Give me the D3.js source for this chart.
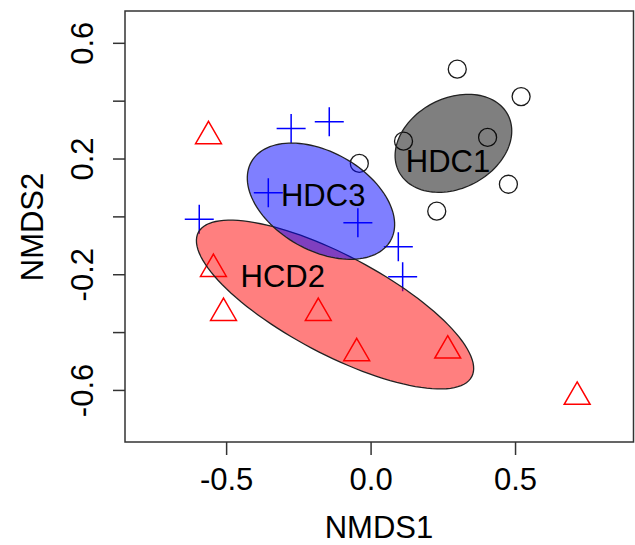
<!DOCTYPE html>
<html>
<head>
<meta charset="utf-8">
<script src="https://cdn.jsdelivr.net/npm/d3@7"></script>
<style>
  body { margin: 0; background: #fff; }
  svg text { font-family: "Liberation Sans", Arial, sans-serif; fill: #000; }
</style>
</head>
<body>
<div class="chart"></div>
<script>
// NMDS scores
var groupNames = ['HDC1', 'HCD2', 'HDC3'];
var hdc1X = [0.300, 0.521, 0.114, 0.405, -0.039, 0.477, 0.229];
var hdc1Y = [0.509, 0.414, 0.260, 0.273, 0.183, 0.111, 0.018];
var hcd2X = [-0.561, -0.544, -0.509, -0.181, -0.048, 0.267, 0.715];
var hcd2Y = [0.277, -0.182, -0.334, -0.334, -0.473, -0.464, -0.624];
var hdc3X = [-0.275, -0.143, -0.354, -0.593, -0.044, 0.096, 0.111];
var hdc3Y = [0.304, 0.327, 0.082, -0.010, -0.022, -0.105, -0.209];
// where the group names were written
var labelX = [0.268, -0.304, -0.164];
var labelY = [0.193, -0.206, 0.074];
var xTicks = [-0.5, 0.0, 0.5];
var yTicks = [-0.6, -0.4, -0.2, 0.0, 0.2, 0.4, 0.6];
var yTickLabels = ['-0.6', '', '-0.2', '', '0.2', '', '0.6'];

var groups = [
  { name: groupNames[0], xs: hdc1X, ys: hdc1Y, pch: 'circle', col: '#1a1a1a', fill: 'rgba(0,0,0,0.5)' },
  { name: groupNames[1], xs: hcd2X, ys: hcd2Y, pch: 'triangle', col: '#ff0000', fill: 'rgba(255,0,0,0.5)' },
  { name: groupNames[2], xs: hdc3X, ys: hdc3Y, pch: 'plus', col: '#0000ff', fill: 'rgba(0,0,255,0.5)' }
];

var svg = d3.select('.chart')
    .append('svg')
    .attr('width', 635)
    .attr('height', 545);

var x = d3.scaleLinear().domain([-0.85, 0.91]).range([125, 633.5]);
var y = d3.scaleLinear().domain([-0.78, 0.71]).range([442, 11]);

// points first, ellipses go over them
groups.forEach(function(g) {
  var pts = g.xs.map(function(v, i) { return [x(v), y(g.ys[i])]; });
  var sel = svg.append('g').selectAll('path').data(pts).enter().append('path')
      .attr('transform', function(d) { return 'translate(' + d[0] + ',' + d[1] + ')'; })
      .attr('fill', 'none')
      .attr('stroke', g.col)
      .attr('stroke-width', 1.5);
  if (g.pch === 'circle') {
    sel.attr('d', d3.arc()({ innerRadius: 0, outerRadius: 9, startAngle: 0, endAngle: 2 * Math.PI }))
       .attr('stroke-width', 1.3);
  } else if (g.pch === 'triangle') {
    sel.attr('d', d3.symbol(d3.symbolTriangle, 290)());
  } else {
    sel.attr('d', 'M-14.5,0H14.5M0,-14.5V14.5');
  }
});

// 1-sd ellipse from the group covariance (as ordiellipse kind = "sd")
function sdEllipse(xs, ys) {
  var n = xs.length;
  var mx = d3.mean(xs), my = d3.mean(ys);
  var sxx = 0, syy = 0, sxy = 0;
  for (var i = 0; i < n; i++) {
    sxx += (xs[i] - mx) * (xs[i] - mx);
    syy += (ys[i] - my) * (ys[i] - my);
    sxy += (xs[i] - mx) * (ys[i] - my);
  }
  sxx /= n - 1; syy /= n - 1; sxy /= n - 1;
  var tr = sxx + syy, det = sxx * syy - sxy * sxy;
  var disc = Math.sqrt(tr * tr / 4 - det);
  var l1 = tr / 2 + disc, l2 = tr / 2 - disc;
  var ang = 0.5 * Math.atan2(2 * sxy, sxx - syy);
  var a = Math.sqrt(l1), b = Math.sqrt(l2);
  var out = [];
  for (var k = 0; k < 120; k++) {
    var t = 2 * Math.PI * k / 120;
    var ex = a * Math.cos(t), ey = b * Math.sin(t);
    out.push([x(mx + ex * Math.cos(ang) - ey * Math.sin(ang)),
              y(my + ex * Math.sin(ang) + ey * Math.cos(ang))]);
  }
  return out;
}

groups.forEach(function(g) {
  svg.append('path')
      .attr('d', d3.line().curve(d3.curveLinearClosed)(sdEllipse(g.xs, g.ys)))
      .attr('fill', g.fill)
      .attr('stroke', '#222')
      .attr('stroke-width', 1.3);
});

groups.forEach(function(g, i) {
  svg.append('text')
      .attr('x', x(labelX[i]))
      .attr('y', y(labelY[i]))
      .attr('dy', '0.36em')
      .attr('text-anchor', 'middle')
      .attr('font-size', 31)
      .text(g.name);
});

// axes
var xAxis = svg.append('g')
    .attr('transform', 'translate(0,442)')
    .call(d3.axisBottom(x).tickValues(xTicks).tickSize(13).tickSizeOuter(0)
      .tickFormat(d3.format('.1f')));
var yAxis = svg.append('g')
    .attr('transform', 'translate(125,0)')
    .call(d3.axisLeft(y).tickValues(yTicks).tickSize(12).tickSizeOuter(0)
      .tickFormat(function(d, i) { return yTickLabels[i]; }));

[xAxis, yAxis].forEach(function(ax) {
  ax.select('.domain').remove();
  ax.selectAll('line').attr('stroke', '#333').attr('stroke-width', 1.5);
  ax.selectAll('text').attr('font-size', 31).attr('fill', '#000')
      .attr('font-family', '"Liberation Sans", Arial, sans-serif');
});
xAxis.selectAll('text').attr('y', 48).attr('dy', 0)
    .text(function(d) { return d3.format('.1f')(d).replace('−', '-'); });
yAxis.selectAll('text').attr('x', 0).attr('dy', 0)
    .attr('text-anchor', 'middle')
    .attr('transform', 'translate(-32,0) rotate(-90)')
    .text(function(d, i) { return yTickLabels[i]; });

svg.append('rect')
    .attr('x', 125).attr('y', 11)
    .attr('width', 508.5).attr('height', 431)
    .attr('fill', 'none')
    .attr('stroke', '#333')
    .attr('stroke-width', 1.5);

svg.append('text')
    .attr('x', 379).attr('y', 538)
    .attr('text-anchor', 'middle')
    .attr('font-size', 31)
    .text('NMDS1');
svg.append('text')
    .attr('transform', 'translate(43,227) rotate(-90)')
    .attr('text-anchor', 'middle')
    .attr('font-size', 31)
    .text('NMDS2');
</script>
</body>
</html>
